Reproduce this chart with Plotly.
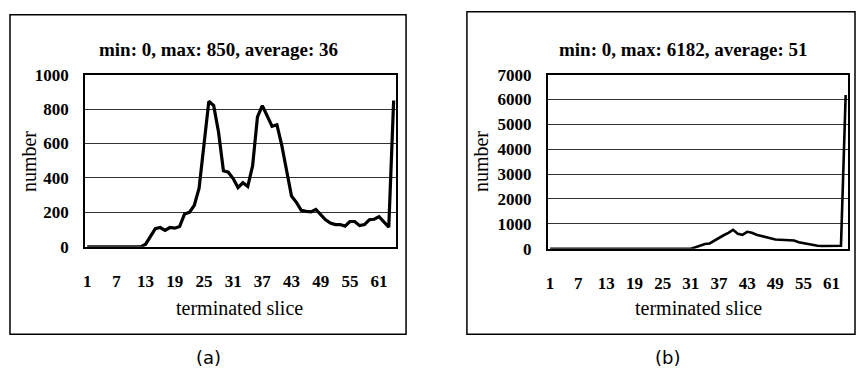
import plotly.graph_objects as go

W, H = 856, 389

slices = list(range(1, 65))
values_a = [0]*12 + [15, 60, 105, 112, 95, 112, 108, 118, 190, 200, 240, 340,
            600, 845, 820, 665, 442, 433, 396, 344, 372, 350, 470, 755,
            820, 764, 700, 709, 589, 442, 295, 258, 212, 206, 203, 217,
            184, 157, 138, 129, 129, 120, 147, 147, 123, 129, 157, 160,
            175, 147, 114, 850]
values_b = [0]*31 + [60, 140, 190, 210, 330, 450, 540, 640, 760, 600, 560,
            680, 640, 560, 510, 470, 420, 370, 360, 360, 360, 330, 260,
            220, 190, 150, 120, 110, 110, 110, 110, 120, 6182]
tick_vals = [1, 7, 13, 19, 25, 31, 37, 43, 49, 55, 61]
titles = ["min: 0, max: 850, average: 36", "min: 0, max: 6182, average: 51"]
panel_labels = ["(a)", "(b)"]

def px(x):
    return x / W

def py(y):
    return 1 - y / H

SERIF = "Liberation Serif"

fig = go.Figure()
fig.add_trace(go.Scatter(x=slices, y=values_a, mode="lines",
                         line=dict(color="black", width=3.2),
                         xaxis="x", yaxis="y", showlegend=False))
fig.add_trace(go.Scatter(x=slices, y=values_b, mode="lines",
                         line=dict(color="black", width=2.6),
                         xaxis="x2", yaxis="y2", showlegend=False))

common_x = dict(range=[0.5, 64.5], tickvals=tick_vals, showgrid=False,
                zeroline=False, showline=True, mirror=True, linecolor="black",
                linewidth=1.5, ticks="outside", ticklen=18,
                tickcolor="rgba(0,0,0,0)",
                tickfont=dict(family=SERIF, size=17, color="black", weight="bold"))
common_y = dict(showgrid=True, gridcolor="#333333", gridwidth=1,
                zeroline=False, showline=True, mirror=True, linecolor="black",
                linewidth=1.5, ticks="outside", ticklen=11,
                tickcolor="rgba(0,0,0,0)",
                tickfont=dict(family=SERIF, size=17, color="black", weight="bold"))

fig.update_layout(
    width=W, height=H, margin=dict(l=0, r=0, t=0, b=0),
    paper_bgcolor="white", plot_bgcolor="white",
    xaxis=dict(domain=[px(83), px(395)], anchor="y", **common_x),
    yaxis=dict(domain=[py(250), py(69)], anchor="x", range=[0, 1000],
               tickvals=[0, 200, 400, 600, 800, 1000], **common_y),
    xaxis2=dict(domain=[px(547), px(848)], anchor="y2", **common_x),
    yaxis2=dict(domain=[py(252), py(69)], anchor="x2", range=[0, 7000],
                tickvals=[0, 1000, 2000, 3000, 4000, 5000, 6000, 7000], **common_y),
)

annots = []
for cx, t in [(217, titles[0]), (683, titles[1])]:
    annots.append(dict(x=px(cx), y=py(43), xref="paper", yref="paper", text=t,
                       showarrow=False, xanchor="center", yanchor="middle",
                       font=dict(family=SERIF, size=19, color="black", weight="bold")))
for cx in [238, 698]:
    annots.append(dict(x=px(cx), y=py(314), xref="paper", yref="paper",
                       text="terminated slice", showarrow=False,
                       xanchor="center", yanchor="middle",
                       font=dict(family=SERIF, size=20, color="black")))
for cx in [27, 480]:
    annots.append(dict(x=px(cx), y=py(160), xref="paper", yref="paper",
                       text="number", showarrow=False, textangle=-90,
                       xanchor="center", yanchor="middle",
                       font=dict(family=SERIF, size=20, color="black")))
for cx, t in [(207, panel_labels[0]), (667, panel_labels[1])]:
    annots.append(dict(x=px(cx), y=py(366), xref="paper", yref="paper", text=t,
                       showarrow=False, xanchor="center", yanchor="middle",
                       font=dict(family="DejaVu Sans", size=18, color="black")))
fig.update_layout(annotations=annots)

shapes = [
    dict(type="rect", xref="paper", yref="paper", x0=px(8), x1=px(405),
         y0=py(342), y1=py(6), line=dict(color="black", width=1.5)),
    dict(type="rect", xref="paper", yref="paper", x0=px(466), x1=px(855),
         y0=py(342), y1=py(3), line=dict(color="black", width=1.5)),
]
fig.update_layout(shapes=shapes)

fig.write_html(
    "out.html",
    config={"displayModeBar": False},
    post_script=("document.documentElement.style.margin='0';"
                 "document.body.style.margin='0';"
                 "document.body.style.padding='0';"
                 "document.body.style.overflow='hidden';"),
)
